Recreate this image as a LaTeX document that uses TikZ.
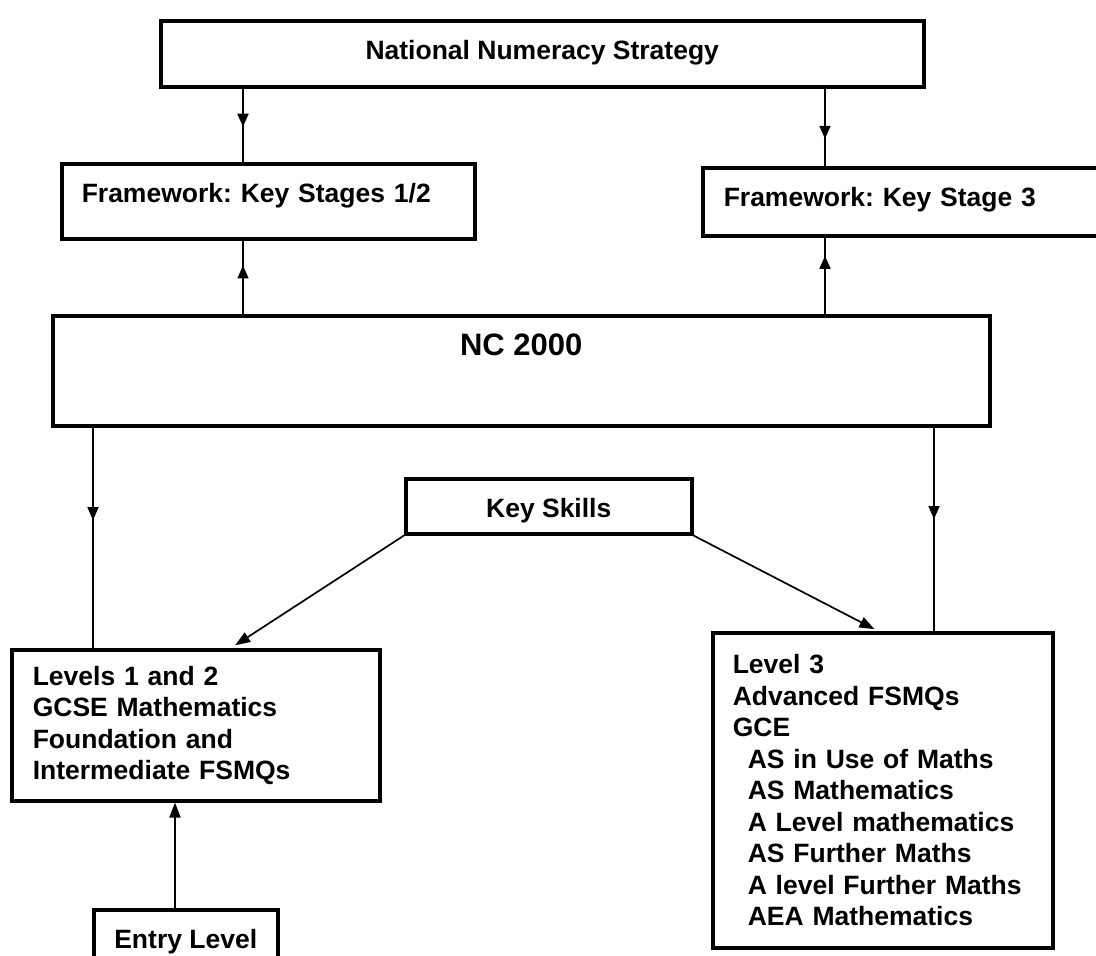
\documentclass[tikz,border=0pt]{standalone}
\usepackage{fontspec}
\setmainfont{Liberation Sans}
\usepackage{tikz}
\usetikzlibrary{arrows.meta, decorations.markings}
\frenchspacing

\begin{document}
\begin{tikzpicture}[x=1pt, y=-1pt,
  every node/.style={font=\bfseries\fontsize{26.5}{31.5}\selectfont},
  box/.style    ={draw, line width=3.5pt, inner sep=0pt, anchor=north west},
  arr/.style    ={line width=1.7pt},
  midarr/.style ={arr, postaction={decorate},
                  decoration={markings, mark=at position #1 with {\arrow{Triangle[length=13pt, width=11pt]}}}},
  endarr/.style ={arr, -{Triangle[length=15pt, width=11pt]}},
]
\clip (0,0) rectangle (1096,956);

% Top
\node[box, minimum width=763, text height=39, text depth=27] (nns) at (159,19) {National Numeracy Strategy};

% Frameworks
\node[box, text width=373, inner xsep=20, text height=39, text depth=36, align=left] (fks12) at (60,162) {Framework: Key Stages 1/2};
\node[box, text width=367, inner xsep=21, text height=39, text depth=29, align=left] (fks3) at (701,166) {Framework: Key Stage 3};

% Curriculum
\node[box, minimum width=937, text height=40, text depth=70, font=\bfseries\fontsize{31}{36}\selectfont] (nc) at (51,314) {NC 2000};

\node[box, minimum width=286, text height=39, text depth=16] (ks) at (404,477) {Key Skills};

% Levels
\node[box, text width=326, inner xsep=21, minimum height=151, align=left] (levels) at (10,648)
  {Levels 1 and 2\\GCSE Mathematics\\Foundation and\\Intermediate FSMQs};
\node[box, text width=300, inner xsep=20, minimum height=315, align=left] (level3) at (711,631)
  {Level 3\\Advanced FSMQs\\GCE\\
   \hspace*{15pt}AS in Use of Maths\\
   \hspace*{15pt}AS Mathematics\\
   \hspace*{15pt}A Level mathematics\\
   \hspace*{15pt}AS Further Maths\\
   \hspace*{15pt}A level Further Maths\\
   \hspace*{15pt}AEA Mathematics};
\node[box, minimum width=184, text height=39, text depth=36] (entry) at (92,908) {Entry Level};

% Wire columns
\coordinate (xa) at (243,0);
\coordinate (xb) at (825,0);
\coordinate (xc) at (93,0);
\coordinate (xd) at (934,0);
\coordinate (xe) at (175,0);
\coordinate (xf) at (231,0);
\coordinate (xg) at (878,0);

% Wires - top section
\draw[midarr=0.52] (nns.south -| xa) -- (fks12.north -| xa);
\draw[midarr=0.65] (nns.south -| xb) -- (fks3.north -| xb);
\draw[midarr=0.66] (nc.north -| xa) -- (fks12.south -| xa);
\draw[midarr=0.76] (nc.north -| xb) -- (fks3.south -| xb);

% Down to levels
\draw[midarr=0.42] (nc.south -| xc) -- (levels.north -| xc);
\draw[midarr=0.45] (nc.south -| xd) -- (level3.north -| xd);

% Key skills
\draw[endarr, shorten >=5pt] (ks.south west) -- (levels.north -| xf);
\draw[endarr, shorten >=4pt] (ks.south east) -- (level3.north -| xg);

% Entry
\draw[endarr] (entry.north -| xe) -- (levels.south -| xe);

\end{tikzpicture}
\end{document}
